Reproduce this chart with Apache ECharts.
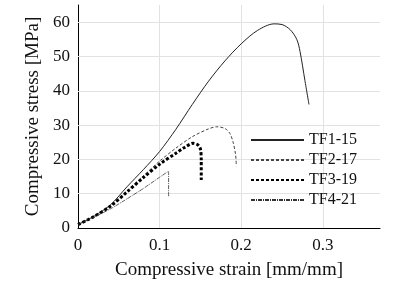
<!DOCTYPE html>
<html>
<head>
<meta charset="utf-8">
<script src="https://cdn.jsdelivr.net/npm/echarts@6/dist/echarts.min.js"></script>
<style>
  html, body { margin: 0; padding: 0; background: #fff; }
  #grafik { width: 394px; height: 290px; }
</style>
</head>
<body>
<div id="grafik"></div>
<script>
// okunan degerler (strain, stress)
const tf1Strain = [0, 0.02, 0.04, 0.06, 0.08, 0.1, 0.12, 0.14, 0.16, 0.18, 0.2, 0.22, 0.24, 0.25, 0.26, 0.268, 0.272, 0.278, 0.283];
const tf1Stress = [1, 3.5, 6.8, 12, 17, 22.3, 28.8, 36, 42.8, 48.7, 53.7, 57.6, 59.5, 59.3, 57.8, 55, 51.5, 43, 36];

const tf2Strain = [0, 0.02, 0.04, 0.06, 0.08, 0.1, 0.12, 0.14, 0.16, 0.17, 0.18, 0.186, 0.19, 0.193, 0.194];
const tf2Stress = [1, 3.4, 6.5, 10.8, 15.2, 19.5, 23.3, 26.6, 28.9, 29.5, 29, 27.6, 25, 21.5, 18];

const tf3Strain = [0, 0.02, 0.04, 0.06, 0.08, 0.1, 0.12, 0.13, 0.141, 0.147, 0.15, 0.151, 0.151];
const tf3Stress = [1, 3.4, 6.4, 10.5, 14.7, 18.6, 21.8, 23.4, 24.7, 24.2, 23, 20, 14];

const tf4Strain = [0, 0.02, 0.04, 0.06, 0.08, 0.1, 0.11, 0.111, 0.111];
const tf4Stress = [1, 3.2, 5.6, 8.5, 11.5, 14.8, 16.4, 16.5, 9];

const isimler = ["TF1-15", "TF2-17", "TF3-19", "TF4-21"];
const xTicks = [0, 0.1, 0.2, 0.3];
const yTicks = [0, 10, 20, 30, 40, 50, 60];

function ciftler(xs, ys) {
  let sonuc = [];
  for (let i = 0; i < xs.length; i++) {
    sonuc.push([xs[i], ys[i]]);
  }
  return sonuc;
}

// izgara cizgileri (0 haric)
let izgara = [];
xTicks.slice(1).forEach(function (v) { izgara.push({ xAxis: v }); });
yTicks.slice(1).forEach(function (v) { izgara.push({ yAxis: v }); });

const font = "Liberation Serif";
let myChart = echarts.init(document.getElementById("grafik"));

let option = {
  animation: false,
  backgroundColor: "#fff",
  textStyle: { fontFamily: font },
  grid: { left: 78, right: 14, top: 5, bottom: 62 },
  legend: {
    orient: "vertical",
    left: 245,
    top: 125,
    itemWidth: 53,
    itemHeight: 20,
    itemGap: 0,
    itemStyle: { opacity: 0, borderWidth: 0 },
    data: isimler,
    textStyle: { fontFamily: font, fontSize: 16, color: "#111", lineHeight: 20 }
  },
  xAxis: {
    type: "value",
    min: 0,
    max: 0.37,
    interval: 0.1,
    name: "Compressive strain [mm/mm]",
    nameLocation: "middle",
    nameGap: 33,
    nameTextStyle: { fontFamily: font, fontSize: 19, color: "#111" },
    axisLine: { onZero: false, lineStyle: { color: "#000", width: 1 } },
    axisTick: { show: false },
    axisLabel: {
      fontFamily: font, fontSize: 17, color: "#111", margin: 9,
      showMaxLabel: false,
      formatter: function (v) { let r = Math.round(v * 10) / 10; return xTicks.indexOf(r) >= 0 ? String(r) : ""; }
    },
    splitLine: { show: false }
  },
  yAxis: {
    type: "value",
    min: 0,
    max: 65,
    interval: 10,
    name: "Compressive stress [MPa]",
    nameLocation: "middle",
    nameGap: 31,
    nameTextStyle: { fontFamily: font, fontSize: 19, color: "#111" },
    axisLine: { show: true, onZero: false, lineStyle: { color: "#000", width: 1 } },
    axisTick: { show: false },
    axisLabel: {
      fontFamily: font, fontSize: 17, color: "#111", margin: 8,
      showMaxLabel: false,
      formatter: function (v) { return yTicks.indexOf(v) >= 0 ? String(v) : ""; }
    },
    splitLine: { show: false }
  },
  series: [
    {
      name: isimler[0],
      type: "line",
      showSymbol: false,
      symbol: "none",
      data: ciftler(tf1Strain, tf1Stress),
      smooth: 0.3,
      lineStyle: { color: "#222", width: 1, type: "solid" },
      itemStyle: { color: "#222" },
      z: 3,
      markLine: {
        silent: true,
        symbol: "none",
        label: { show: false },
        lineStyle: { color: "#e2e2e2", width: 1, type: "solid" },
        z: 1,
        data: izgara
      }
    },
    {
      name: isimler[1],
      type: "line",
      showSymbol: false,
      symbol: "none",
      data: ciftler(tf2Strain, tf2Stress),
      smooth: 0.3,
      lineStyle: { color: "#444", width: 1, type: [3, 2] },
      itemStyle: { color: "#444" },
      z: 3
    },
    {
      name: isimler[2],
      type: "line",
      showSymbol: false,
      symbol: "none",
      data: ciftler(tf3Strain, tf3Stress),
      smooth: 0.3,
      lineStyle: { color: "#000", width: 3, type: [3, 2] },
      itemStyle: { color: "#000" },
      z: 3
    },
    {
      name: isimler[3],
      type: "line",
      showSymbol: false,
      symbol: "none",
      data: ciftler(tf4Strain, tf4Stress),
      smooth: 0.2,
      lineStyle: { color: "#333", width: 0.8, type: [4, 1, 1, 1] },
      itemStyle: { color: "#333" },
      z: 3
    }
  ]
};

myChart.setOption(option);
</script>
</body>
</html>
